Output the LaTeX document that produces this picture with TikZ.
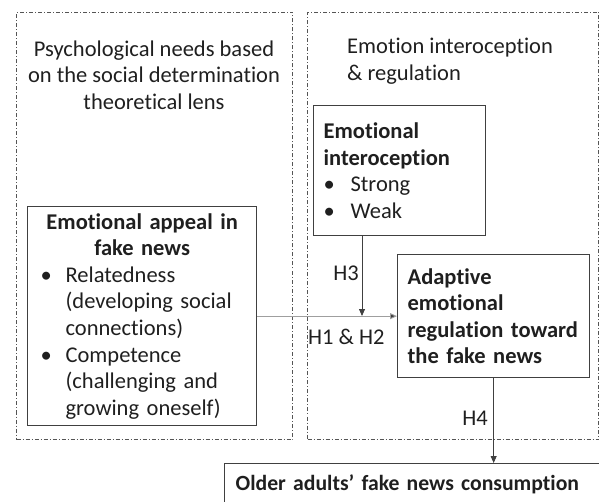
\documentclass[tikz,border=0pt]{standalone}
\usepackage{fontspec}
\setmainfont{Carlito}[Ligatures={NoCommon}]
\usetikzlibrary{arrows.meta}
\definecolor{txt}{HTML}{1F1F1F}
\definecolor{edge}{HTML}{404040}
\definecolor{dd}{HTML}{555555}
\newcommand\bigtxt{\fontsize{22.5}{26.6}\selectfont\spaceskip 0.226em\relax}
\newcommand\oldtxt{\fontsize{21.7}{26.6}\selectfont\spaceskip 0.226em\relax}
\begin{document}
\begin{tikzpicture}[x=1pt,y=-1pt,
  every node/.style={text=txt},
  big/.style={font=\bigtxt},
  frame/.style={draw=dd, line width=1pt, dash pattern=on 4pt off 2pt on 1pt off 2pt, inner sep=0pt, anchor=north west},
  box/.style={draw=edge, line width=1.3pt, anchor=north west, inner ysep=0pt, big},
  conn/.style={draw=edge, line width=0.8pt, -{Triangle[length=7pt,width=6pt]}},
  hconn/.style={draw=gray!75, line width=0.9pt, -{Triangle[length=7pt,width=6pt,fill=edge]}},
  lbl/.style={big, inner sep=0pt}]
\useasboundingbox (0,0) rectangle (599,502);

% dash-dot frames
\node[frame, minimum width=276, minimum height=427] (leftframe) at (16,12) {};
\node[frame, minimum width=291, minimum height=427] (rightframe) at (307,12) {};

% frame titles
\node[big, align=center, inner sep=0pt] (ltitle) at (154,75)
  {Psychological needs based\\on the social determination\\theoretical lens};
\node[big, align=left, inner sep=0pt, anchor=west] (rtitle) at (347,61)
  {Emotion interoception\\\& regulation};

% boxes
\node[box, minimum width=229, minimum height=219, text width=203, inner xsep=13, align=left] (appeal) at (27,206)
  {\makebox[203pt][c]{\textbf{Emotional appeal in}}\\
   \makebox[203pt][c]{\textbf{fake news}}\\
   \makebox[25pt][l]{\textbullet}Relatedness\\
   \hspace*{25pt}(developing social\\
   \hspace*{25pt}connections)\\
   \makebox[25pt][l]{\textbullet}Competence\\
   \hspace*{25pt}(challenging and\\
   \hspace*{25pt}growing oneself)};

\node[box, minimum width=172, minimum height=130, text width=152, inner xsep=10, align=left] (intero) at (313,105)
  {\textbf{Emotional}\\\textbf{interoception}\\
   \makebox[27pt][l]{\textbullet}Strong\\
   \makebox[27pt][l]{\textbullet}Weak};

\node[box, minimum width=192, minimum height=123, text width=172, inner xsep=10, align=left] (adaptive) at (397,254)
  {\textbf{Adaptive}\\\textbf{emotional}\\\textbf{regulation toward}\\\textbf{the fake news}};

\node[box, minimum width=381, minimum height=42, text width=359, inner xsep=11, align=left,
      font=\oldtxt] (older) at (224,463)
  {\textbf{Older adults’ fake news consumption}};

% connectors
\coordinate (h3end) at (362,316);
\draw[hconn] (appeal.east) -- (adaptive.west);
\draw[conn] (intero.south -| h3end) -- (h3end);
\draw[conn] (adaptive.south) -- (older.north -| adaptive.south);

% labels
\node[lbl, anchor=east] (lh3) at (359,273) {H3};
\node[lbl, anchor=west] (lh12) at (308,337) {H1 \& H2};
\node[lbl] (lh4) at (475,418) {H4};
\end{tikzpicture}
\end{document}
